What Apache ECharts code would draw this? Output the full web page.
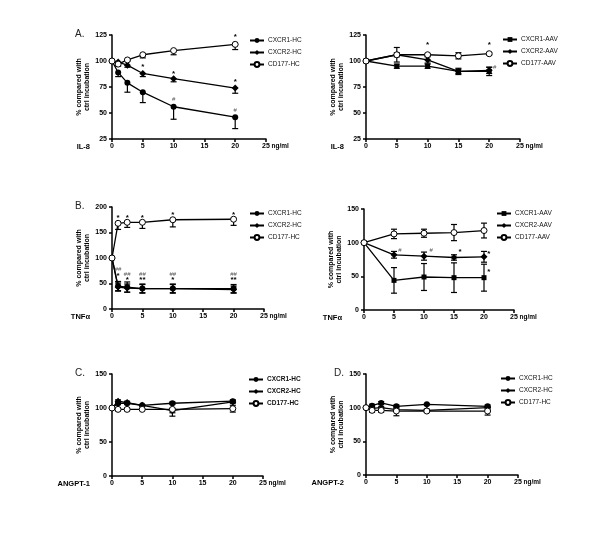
<!DOCTYPE html>
<html><head><meta charset="utf-8">
<script src="https://cdn.jsdelivr.net/npm/echarts@6/dist/echarts.min.js"></script>
<style>html,body{margin:0;padding:0;background:#fff}#c{width:600px;height:540px}</style>
</head><body><div id="c"></div>
<script>
// ---------- data ----------
const xHC = [0, 1, 2.5, 5, 10, 20];
const xAAV = [0, 5, 10, 15, 20];

// Panel A (IL-8, healthy controls)
const il8HC_CXCR1 = [100, 89, 79, 70, 56, 46];
const il8HC_CXCR1_err = [0, 4, 9, 10, 12, 11];
const il8HC_CXCR2 = [100, 99, 96, 88, 83, 74];
const il8HC_CXCR2_err = [0, 1, 2, 3, 3, 5];
const il8HC_CD177 = [100, 97, 101, 106, 110, 116];
const il8HC_CD177_err = [0, 2, 1, 3, 4, 5];
const il8HC_marks = [[5, 94, '*'], [10, 88, '*'], [20, 80, '*'], [20, 123.5, '*'], [10, 63, '#'], [20, 53, '#']];

// Panel A right (IL-8, AAV)
const il8AAV_CXCR1 = [100, 95, 95, 90, 90];
const il8AAV_CXCR1_err = [0, 2, 2, 3, 4];
const il8AAV_CXCR2 = [100, 106, 101, 90, 91];
const il8AAV_CXCR2_err = [0, 7, 3, 2, 3];
const il8AAV_CD177 = [100, 106, 106, 105, 107];
const il8AAV_CD177_err = [0, 2, 1, 3, 1];
const il8AAV_marks = [[10, 115.5, '*'], [20, 116, '*'], [20.9, 94, '#']];

// Panel B (TNFα, healthy controls)
const tnfHC_CXCR1 = [100, 45, 43, 40, 40, 40];
const tnfHC_CXCR1_err = [0, 9, 10, 9, 9, 8];
const tnfHC_CXCR2 = [100, 43, 41, 40, 40, 38];
const tnfHC_CXCR2_err = [0, 8, 8, 8, 8, 7];
const tnfHC_CD177 = [100, 168, 170, 170, 175, 176];
const tnfHC_CD177_err = [0, 12, 10, 12, 14, 12];
const tnfHC_marks = [[1, 179, '*'], [2.5, 179, '*'], [5, 179, '*'], [10, 185, '*'], [20, 185, '*'],
  [1, 77, '##'], [1, 65, '*'], [2.5, 67, '##'], [2.5, 57, '*'], [5, 67, '##'], [5, 57, '**'],
  [10, 67, '##'], [10, 57, '*'], [20, 67, '##'], [20, 57, '**']];

// Panel B right (TNFα, AAV)
const tnfAAV_CXCR1 = [100, 44, 49, 48, 48];
const tnfAAV_CXCR1_err = [0, 19, 20, 22, 20];
const tnfAAV_CXCR2 = [100, 82, 80, 78, 79];
const tnfAAV_CXCR2_err = [0, 5, 6, 4, 8];
const tnfAAV_CD177 = [100, 113, 114, 115, 118];
const tnfAAV_CD177_err = [0, 7, 6, 12, 11];
const tnfAAV_marks = [[6, 88, '#'], [11.2, 88, '#'], [16, 86, '*'], [20.8, 84, '*'], [20.8, 57, '*']];

// Panel C (ANGPT-1)
const ang1_CXCR1 = [100, 107, 107, 104, 107, 110];
const ang1_CXCR1_err = [0, 2, 2, 1, 2, 2];
const ang1_CXCR2 = [100, 110, 108, 104, 96, 109];
const ang1_CXCR2_err = [0, 2, 2, 1, 3, 2];
const ang1_CD177 = [100, 98, 98, 98, 98, 99];
const ang1_CD177_err = [0, 2, 2, 1, 10, 5];

// Panel D (ANGPT-2)
const ang2_CXCR1 = [100, 103, 107, 102, 105, 102];
const ang2_CXCR1_err = [0, 2, 2, 2, 1, 2];
const ang2_CXCR2 = [100, 99, 100, 97, 96, 100];
const ang2_CXCR2_err = [0, 2, 2, 2, 2, 2];
const ang2_CD177 = [100, 96, 96, 95, 95, 95];
const ang2_CD177_err = [0, 3, 3, 7, 2, 6];

// ---------- layout ----------
const FONT = '"Liberation Sans", Arial, sans-serif';
const panels = [
  { grid: [112, 35, 154, 104], x: xHC, y: [25, 125, 25], letter: 'A.', xname: 'IL-8',
    names: ['CXCR1-HC', 'CXCR2-HC', 'CD177-HC'], aav: false, dirs: ['down', 'down', 'down'],
    vals: [il8HC_CXCR1, il8HC_CXCR2, il8HC_CD177], errs: [il8HC_CXCR1_err, il8HC_CXCR2_err, il8HC_CD177_err],
    marks: il8HC_marks, legend: [249, 37], bold: false },
  { grid: [366, 35, 154, 104], x: xAAV, y: [25, 125, 25], letter: '', xname: 'IL-8',
    names: ['CXCR1-AAV', 'CXCR2-AAV', 'CD177-AAV'], aav: true, dirs: ['both', 'both', 'both'],
    vals: [il8AAV_CXCR1, il8AAV_CXCR2, il8AAV_CD177], errs: [il8AAV_CXCR1_err, il8AAV_CXCR2_err, il8AAV_CD177_err],
    marks: il8AAV_marks, legend: [502, 36], bold: false },
  { grid: [112, 207, 152, 102], x: xHC, y: [0, 200, 50], letter: 'B.', xname: 'TNFα',
    names: ['CXCR1-HC', 'CXCR2-HC', 'CD177-HC'], aav: false, dirs: ['both', 'both', 'down'],
    vals: [tnfHC_CXCR1, tnfHC_CXCR2, tnfHC_CD177], errs: [tnfHC_CXCR1_err, tnfHC_CXCR2_err, tnfHC_CD177_err],
    marks: tnfHC_marks, legend: [249, 210], bold: false },
  { grid: [364, 209, 150, 101], x: xAAV, y: [0, 150, 50], letter: '', xname: 'TNFα',
    names: ['CXCR1-AAV', 'CXCR2-AAV', 'CD177-AAV'], aav: true, dirs: ['both', 'both', 'both'],
    vals: [tnfAAV_CXCR1, tnfAAV_CXCR2, tnfAAV_CD177], errs: [tnfAAV_CXCR1_err, tnfAAV_CXCR2_err, tnfAAV_CD177_err],
    marks: tnfAAV_marks, legend: [496, 210], bold: false },
  { grid: [112, 374, 151, 102], x: xHC, y: [0, 150, 50], letter: 'C.', xname: 'ANGPT-1',
    names: ['CXCR1-HC', 'CXCR2-HC', 'CD177-HC'], aav: false, dirs: ['both', 'both', 'both'],
    vals: [ang1_CXCR1, ang1_CXCR2, ang1_CD177], errs: [ang1_CXCR1_err, ang1_CXCR2_err, ang1_CD177_err],
    marks: [], legend: [248, 376], bold: true },
  { grid: [366, 374, 152, 101], x: xHC, y: [0, 150, 50], letter: 'D.', xname: 'ANGPT-2',
    names: ['CXCR1-HC', 'CXCR2-HC', 'CD177-HC'], aav: false, dirs: ['both', 'both', 'both'],
    vals: [ang2_CXCR1, ang2_CXCR2, ang2_CD177], errs: [ang2_CXCR1_err, ang2_CXCR2_err, ang2_CD177_err],
    marks: [], legend: [500, 375], bold: false }
];

const grids = [], xAxes = [], yAxes = [], series = [], legends = [], graphics = [];

panels.forEach((p, i) => {
  const [L, T, W, H] = p.grid;
  grids.push({ left: L, top: T, width: W, height: H, containLabel: false });
  xAxes.push({
    type: 'value', gridIndex: i, min: 0, max: 25, interval: 5,
    axisLine: { show: true, onZero: false, lineStyle: { color: '#000', width: 1.5 } },
    axisTick: { show: true, length: 3, lineStyle: { color: '#000', width: 1.5 } },
    axisLabel: { fontSize: 7, fontWeight: 'bold', color: '#000', margin: 4, fontFamily: FONT, hideOverlap: false, showMinLabel: true, showMaxLabel: true },
    splitLine: { show: false }
  });
  yAxes.push({
    type: 'value', gridIndex: i, min: p.y[0], max: p.y[1], interval: p.y[2],
    name: '% compared with\nctrl incubation', nameLocation: 'middle', nameGap: 19, nameRotate: 90,
    nameTextStyle: { fontSize: 7, fontWeight: 'bold', color: '#000', lineHeight: 8, fontFamily: FONT },
    axisLine: { show: true, onZero: false, lineStyle: { color: '#000', width: 1.5 } },
    axisTick: { show: true, length: 3, lineStyle: { color: '#000', width: 1.5 } },
    axisLabel: { fontSize: 7, fontWeight: 'bold', color: '#000', margin: 5, fontFamily: FONT, hideOverlap: false, showMinLabel: true, showMaxLabel: true },
    splitLine: { show: false }
  });
  const styles = [
    { symbol: p.aav ? 'rect' : 'circle', symbolSize: p.aav ? 5 : 6, itemStyle: { color: '#000', borderColor: '#000', borderWidth: 0 } },
    { symbol: 'diamond', symbolSize: 7, itemStyle: { color: '#000', borderColor: '#000', borderWidth: 0 } },
    { symbol: 'circle', symbolSize: 6, itemStyle: { color: '#fff', borderColor: '#000', borderWidth: 1 } }
  ];
  p.names.forEach((nm, k) => {
    const dir = p.dirs[k];
    series.push({
      type: 'custom', xAxisIndex: i, yAxisIndex: i, silent: true, z: 1,
      data: p.x.map((xv, j) => {
        const v = p.vals[k][j], e = p.errs[k][j];
        return [xv, dir === 'up' ? v : v - e, dir === 'down' ? v : v + e];
      }),
      renderItem: function (params, api) {
        const xv = api.value(0);
        const lo = api.coord([xv, api.value(1)]);
        const hi = api.coord([xv, api.value(2)]);
        if (Math.abs(lo[1] - hi[1]) < 0.5) return { type: 'group', children: [] };
        const st = { stroke: '#000', lineWidth: 1.2 };
        const c = 3;
        const ch = [{ type: 'line', shape: { x1: lo[0], y1: lo[1], x2: hi[0], y2: hi[1] }, style: st }];
        if (dir !== 'up') ch.push({ type: 'line', shape: { x1: lo[0] - c, y1: lo[1], x2: lo[0] + c, y2: lo[1] }, style: st });
        if (dir !== 'down') ch.push({ type: 'line', shape: { x1: hi[0] - c, y1: hi[1], x2: hi[0] + c, y2: hi[1] }, style: st });
        return { type: 'group', children: ch };
      }
    });
    series.push(Object.assign({
      type: 'line', name: nm, xAxisIndex: i, yAxisIndex: i, z: 3,
      data: p.x.map((xv, j) => [xv, p.vals[k][j]]),
      showSymbol: true, showAllSymbol: true,
      lineStyle: { color: '#000', width: 1.3 }, emphasis: { disabled: true }, animation: false
    }, styles[k]));
  });
  if (p.marks.length) {
    series.push({
      type: 'custom', xAxisIndex: i, yAxisIndex: i, silent: true, z: 4,
      data: p.marks,
      renderItem: function (params, api) {
        const pt = api.coord([api.value(0), api.value(1)]);
        const txt = p.marks[params.dataIndex][2];
        const hash = txt.indexOf('#') >= 0;
        return { type: 'text', x: pt[0], y: pt[1], style: {
          text: txt, fill: hash ? '#555' : '#000', font: (hash ? '6px ' : 'bold 8px ') + FONT,
          textAlign: 'center', textVerticalAlign: 'middle' } };
      }
    });
  }
  legends.push({
    orient: 'vertical', left: p.legend[0], top: p.legend[1], padding: 0, itemGap: 5,
    itemWidth: 14, itemHeight: 6, selectedMode: false, data: p.names,
    textStyle: { fontSize: 6.5, fontWeight: p.bold ? 'bold' : 'normal', color: '#111', fontFamily: FONT, padding: [0, 0, 0, -1] }
  });
  if (p.letter) {
    graphics.push({ type: 'text', left: (i % 2 === 0 ? 75 : 334), top: T - 6, style: { text: p.letter, font: '10px ' + FONT, fill: '#222' } });
  }
  graphics.push({ type: 'text', x: L - 22, y: T + H + 8, style: { text: p.xname, font: 'bold 7.5px ' + FONT, fill: '#000', textAlign: 'right', textVerticalAlign: 'middle' } });
  graphics.push({ type: 'text', x: L + W + 5.5, y: T + H + 7.5, style: { text: 'ng/ml', font: 'bold 6.5px ' + FONT, fill: '#000', textAlign: 'left', textVerticalAlign: 'middle' } });
});

const chart = echarts.init(document.getElementById('c'), null, { renderer: 'canvas' });
chart.setOption({
  backgroundColor: '#fff', animation: false,
  textStyle: { fontFamily: FONT },
  grid: grids, xAxis: xAxes, yAxis: yAxes, series: series, legend: legends, graphic: graphics
});
</script></body></html>
